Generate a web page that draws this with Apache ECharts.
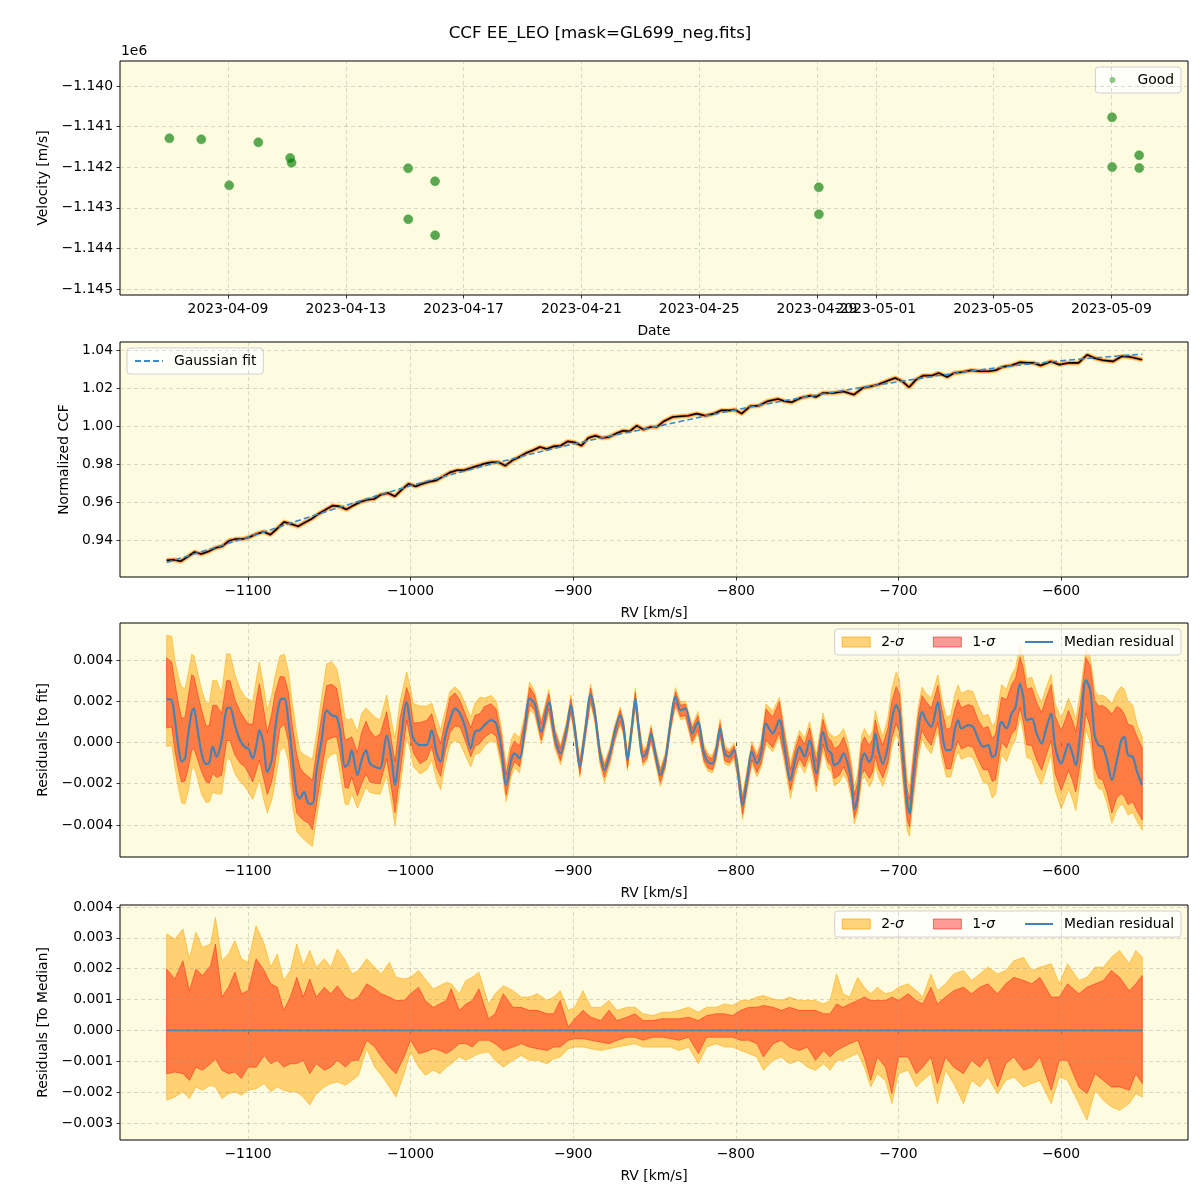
<!DOCTYPE html>
<html>
<head>
<meta charset="utf-8">
<script src="https://cdn.jsdelivr.net/npm/echarts@6.0.0/dist/echarts.min.js"></script>
<style>html,body{margin:0;padding:0;background:#fff;}#chart{width:1200px;height:1200px;}</style>
</head>
<body>
<div id="chart"></div>
<script>
// ---------------- Panel 1: velocities ----------------
const obsTimes = ['2023-04-07T00:15','2023-04-08T02:15','2023-04-09T01:00','2023-04-10T00:45','2023-04-11T02:40','2023-04-11T03:50',
  '2023-04-15T02:50','2023-04-15T02:55','2023-04-16T00:45','2023-04-16T00:50','2023-04-29T01:30','2023-04-29T01:35',
  '2023-05-09T00:30','2023-05-09T00:35','2023-05-09T22:35','2023-05-09T22:40'];
const velocities = [-1141288,-1141313,-1142446,-1141387,-1141773,-1141889,-1142027,-1143283,-1142347,-1143677,
  -1142495,-1143160,-1140771,-1141995,-1141707,-1142020];
const dateTicks = ['2023-04-09','2023-04-13','2023-04-17','2023-04-21','2023-04-25','2023-04-29','2023-05-01','2023-05-05','2023-05-09'];
const velTicks = [-1145000,-1144000,-1143000,-1142000,-1141000,-1140000];

// ---------------- Panel 2: CCF ----------------
const ccfRv = [-1150,-1145.7,-1141.4,-1137.2,-1132.9,-1128.7,-1124.4,-1120.2,-1115.9,-1111.7,
  -1107.4,-1103.2,-1098.9,-1094.7,-1090.4,-1086.2,-1081.9,-1077.7,-1073.4,-1069.2,
  -1064.9,-1060.7,-1056.4,-1052.2,-1047.9,-1043.7,-1039.4,-1035.2,-1030.9,-1026.7,
  -1022.4,-1018.2,-1013.9,-1009.7,-1005.4,-1001.2,-996.9,-992.7,-988.4,-984.2,
  -979.9,-975.7,-971.4,-967.2,-962.9,-958.7,-954.4,-950.2,-945.9,-941.7,
  -937.4,-933.2,-928.9,-924.7,-920.4,-916.2,-911.9,-907.7,-903.4,-899.2,
  -894.9,-890.7,-886.4,-882.2,-877.9,-873.7,-869.4,-865.2,-860.9,-856.7,
  -852.4,
  -848.5,-844.2,-838.9,-833.6,-829.3,-824,-818.7,-813.4,-809.1,-803.8,
  -800.6,-796.4,-791.1,-785.8,-780.5,-774.1,-769.8,-765.6,-760.3,-753.9,
  -750.7,-746.4,-740.1,-733.7,-727.3,-722,-716.7,-712.5,-706.1,-701.9,
  -697.6,-693.4,-689.1,-684.8,-679.5,-675.3,-670,-665.7,-660.4,-655.1,
  -649.8,-644.5,-640.2,-636,-630.6,-625.3,-621.1,-616.8,-612.6,-606.2,
  -600.9,-595.6,-589.2,-583.9,-579.6,-574.3,-567.9,-562.6,-557.3,-550];
const ccfVal = [0.9293,0.9296,0.9288,0.9311,0.9337,0.9326,0.9339,0.9358,0.9367,0.9396,
  0.9405,0.9405,0.9416,0.9432,0.9444,0.9428,0.9461,0.9495,0.9484,0.9472,
  0.9493,0.9512,0.9539,0.9560,0.9581,0.9577,0.9561,0.9582,0.9600,0.9612,
  0.9616,0.9639,0.9647,0.9630,0.9665,0.9696,0.9682,0.9696,0.9707,0.9714,
  0.9735,0.9756,0.9767,0.9767,0.9779,0.9791,0.9802,0.9809,0.9809,0.9791,
  0.9819,0.9837,0.9858,0.9872,0.9889,0.9879,0.9893,0.9896,0.9919,0.9914,
  0.9896,0.9937,0.9949,0.9937,0.9942,0.9960,0.9975,0.9972,1.0002,0.9981,
  0.9995,
  0.9995,1.0025,1.0047,1.0051,1.0054,1.0065,1.0054,1.0065,1.0082,1.0082,
  1.0086,1.0065,1.0104,1.0107,1.0130,1.0142,1.0130,1.0125,1.0147,1.0160,
  1.0153,1.0174,1.0174,1.0182,1.0165,1.0200,1.0209,1.0218,1.0240,1.0253,
  1.0235,1.0204,1.0244,1.0265,1.0265,1.0279,1.0258,1.0279,1.0284,1.0293,
  1.0288,1.0288,1.0293,1.0311,1.0318,1.0335,1.0333,1.0332,1.0318,1.0340,
  1.0323,1.0332,1.0332,1.0375,1.0358,1.0346,1.0340,1.0367,1.0363,1.0349];
const fitRv = [-1150,-1100,-1050,-1000,-950,-900,-850,-800,-750,-700,-650,-600,-550];
const fitVal = [0.9282,0.9415,0.9555,0.9685,0.9800,0.9905,0.9995,1.0085,1.0163,1.0233,1.0295,1.0343,1.0378];
const rvTicks = [-1100,-1000,-900,-800,-700,-600];
const ccfTicks = [0.94,0.96,0.98,1.00,1.02,1.04];

// ---------------- Panel 3: residuals to fit (units of 1e-3) ----------------
const resRv = [-1150,-1146.9,-1144.9,-1142.8,-1140.8,-1138.7,-1136.7,-1134.6,-1133.2,-1131.6,
  -1128.5,-1125.8,-1123.8,-1121.7,-1119.3,-1116.2,-1113.1,-1111.0,-1108.0,-1104.9,
  -1101.8,-1099.8,-1097.1,-1094.6,-1093.0,-1090.5,-1088.1,-1085.4,-1083.4,-1080.3,
  -1077.6,-1075.2,-1072.5,-1070.0,-1068.0,-1065.5,-1062.9,-1060.4,-1057.8,-1054.7,
  -1051.6,-1048.5,-1045.5,-1043.4,-1040.3,-1038.3,-1036.2,-1032.7,-1030.1,-1027.4,
  -1025.0,-1021.9,-1018.8,-1014.7,-1011.6,-1009.6,-1006.5,-1002.4,-1000.4,-998.3,
  -994.2,-990.1,-987.0,-984.0,-981.5,-978.8,-975.8,-972.7,-969.6,-966.5,
  -963.0,-960.4,-957.3,
  -954.6,-950.5,-947.4,-944.3,-941.2,-938.1,-936.1,-933.0,-929.9,-926.8,
  -923.7,-919.6,-915.0,-911.3,-907.8,-904.1,-901.4,-898.9,-895.9,-892.8,
  -889.3,-886.6,-883.5,-880.8,-877.3,-874.8,-871.1,-869.0,-866.6,-863.9,
  -861.8,-859.8,-857.1,-854.6,-852.1,-849.5,-846.4,-843.3,-840.2,-837.1,
  -834.0,-830.9,-826.8,-823.3,-819.6,-817.1,-814.4,-812.3,-809.7,-806.8,
  -804.1,-801.0,-799.0,-795.8,-792.8,-790.1,-787.0,-784.5,-781.4,-777.3,
  -773.2,-770.1,-766.4,-763.5,-760.8,-757.7,-754.6,-750.5,-746.4,-743.3,
  -741.2,
  -739.5,-736.4,-733.7,-731.2,-728.8,-727.1,-725.1,-722.6,-720.9,-717.9,
  -715.8,-714.2,-712.3,-709.6,-706.5,-704.1,-701.4,-699.4,-697.3,-694.6,
  -693.2,-691.1,-688.0,-685.5,-682.9,-679.8,-675.7,-673.6,-670.5,-667.8,
  -665.4,-663.3,-661.3,-657.1,-654.1,-651.0,-647.9,-644.8,-642.3,-640.3,
  -636.6,-633.5,-630.4,-627.9,-625.2,-623.2,-621.1,-618.0,-615.0,-611.9,
  -609.4,-606.1,-603.6,-599.9,-597.5,-595.4,-593.0,-590.9,-588.2,-584.7,
  -582.0,-579.3,-576.9,-574.4,-571.7,-568.7,-565.6,-562.9,-561.0,-558.8,
  -555.9,-553.2,-550.0];
const resMed = [2.10,2.05,1.08,-0.20,-0.93,-0.77,0.44,1.48,1.65,0.92,
  -0.53,-1.05,-0.98,-0.20,-0.69,0.11,1.65,1.69,0.84,0.11,
  -0.24,-0.29,-0.77,-0.05,0.60,-0.05,-1.42,-0.85,0.60,2.05,
  2.13,1.08,-0.85,-2.47,-2.71,-2.39,-2.95,-2.98,-1.34,0.11,
  1.56,1.32,1.24,0.60,-1.18,-1.02,-0.37,-1.58,-0.85,-0.37,
  -1.02,-1.18,-1.26,0.35,-0.85,-2.06,-0.21,1.97,1.08,0.19,
  -0.13,-0.13,0.60,-0.53,-0.94,0.27,1.08,1.65,1.40,0.76,
  -0.29,0.52,0.60,
  0.84,1.08,0.92,-0.21,-2.06,-0.85,-0.53,-0.77,0.60,2.13,
  1.89,0.52,1.97,0.27,-0.53,0.60,1.81,0.60,-1.18,0.44,
  2.34,1.40,-0.53,-1.34,-0.53,0.35,1.32,0.76,-0.85,0.76,
  2.13,0.76,-0.69,-0.45,0.44,-0.53,-1.58,-0.85,0.92,2.21,
  1.56,1.65,0.44,1.00,-0.53,-0.94,-1.02,-0.53,0.68,-0.53,
  -0.69,-0.37,-1.18,-3.03,-1.66,-0.45,-1.02,-0.53,0.92,0.44,
  1.08,-0.21,-1.82,-0.85,-0.21,-0.69,0.11,-1.50,0.52,-0.37,
  -0.53,
  -1.10,-0.94,-0.53,-1.02,-1.98,-3.24,-2.63,-0.85,-0.53,-0.94,
  -0.53,0.44,-0.37,-1.02,-0.21,1.08,1.81,1.48,-0.53,-2.95,
  -3.44,-1.82,0.44,1.48,1.08,0.76,1.97,0.76,-0.37,-0.37,
  0.60,1.08,0.68,0.84,0.76,0.19,-0.21,-0.13,-0.69,-0.61,
  1.00,0.68,1.40,1.73,2.85,2.21,1.08,1.16,0.44,-0.05,
  0.60,1.40,-0.21,-1.02,-0.53,-0.05,-0.53,-1.10,0.44,3.02,
  2.53,0.35,-0.13,-0.21,-0.85,-1.82,-0.85,0.11,0.27,-0.61,
  -0.69,-1.42,-2.06];
// band extents measured from the median (units of 1e-3)
const res2Up = [3.1,3.1,2.9,3.4,3.6,3.4,2.9,2.8,2.55,2.7,
  3.1,2.95,2.9,3.2,3.7,2.3,2.65,2.6,2.45,2.5,
  2.45,2.4,2.75,3.25,3.3,2.85,3.0,3.15,2.6,2.15,
  2.15,2.4,2.65,2.9,2.3,1.8,2.25,2.15,1.75,2.1,
  2.25,2.6,2.35,2.25,2.4,2.1,1.55,2.1,2.25,2.05,
  2.5,2.4,2.35,1.95,1.85,2.25,2.2,1.45,1.7,1.7,
  1.9,1.9,1.3,1.7,1.55,1.25,1.4,1.05,1.05,1.15,
  1.5,1.4,1.6,
  1.3,1.2,1.1,1.0,0.9,1.0,1.0,1.0,0.7,0.8,
  0.6,0.6,0.6,0.45,0.4,0.4,0.5,0.35,0.35,0.4,
  0.5,0.35,0.35,0.35,0.35,0.4,0.4,0.35,0.35,0.35,
  0.5,0.35,0.35,0.35,0.4,0.35,0.35,0.35,0.35,0.45,
  0.4,0.35,0.4,0.5,0.45,0.4,0.4,0.4,0.45,0.4,
  0.35,0.35,0.4,0.5,0.5,0.5,0.5,0.6,0.95,1.1,
  1.1,0.9,0.8,0.8,0.8,0.9,0.9,0.9,0.9,0.9,
  0.9,
  1.35,1.3,1.2,1.1,1.0,1.1,1.1,1.2,1.2,1.2,
  1.1,1.1,1.3,1.3,1.4,1.5,1.6,1.6,1.4,1.2,
  1.2,1.2,1.2,1.2,1.3,1.4,1.3,1.5,1.6,1.7,
  1.7,1.7,1.7,1.7,1.7,1.6,1.5,1.5,1.5,1.6,
  1.8,1.9,1.9,1.9,1.9,2.0,2.0,2.0,2.0,2.0,
  2.0,1.9,2.1,2.2,2.2,2.2,2.2,2.2,2.0,1.5,
  1.6,2.2,2.4,2.5,3.0,3.7,3.3,2.6,2.3,2.6,
  2.5,2.3,2.3];
const res1Up = [2.0,1.85,1.8,2.1,2.1,2.0,1.8,1.8,1.55,1.7,
  2.1,1.85,1.8,2.0,2.5,1.3,1.35,1.3,1.25,1.4,
  1.35,1.2,1.65,2.25,2.25,1.75,1.9,2.25,1.75,1.15,
  1.05,1.4,1.55,1.9,1.5,0.9,1.3,1.15,0.95,1.2,
  1.2,1.5,1.4,1.15,1.3,1.2,0.65,1.1,1.35,1.4,
  1.6,1.45,1.65,1.15,0.85,1.15,1.4,0.7,1.1,0.75,
  1.1,1.2,0.8,1.0,0.9,0.75,1.1,0.75,0.65,0.65,
  1.0,0.8,0.8,
  0.9,0.8,0.7,0.6,0.5,0.6,0.6,0.6,0.45,0.55,
  0.4,0.4,0.4,0.3,0.25,0.25,0.3,0.2,0.2,0.25,
  0.3,0.2,0.2,0.2,0.2,0.25,0.25,0.2,0.2,0.2,
  0.3,0.2,0.2,0.2,0.25,0.2,0.2,0.2,0.2,0.25,
  0.25,0.2,0.25,0.3,0.25,0.25,0.25,0.25,0.25,0.25,
  0.2,0.2,0.25,0.3,0.3,0.3,0.3,0.4,0.7,0.8,
  0.9,0.6,0.5,0.5,0.55,0.6,0.6,0.6,0.6,0.6,
  0.6,
  0.8,0.8,0.8,0.7,0.6,0.7,0.7,0.8,0.8,0.8,
  0.7,0.65,0.8,0.9,0.9,0.9,0.9,0.9,0.8,0.7,
  0.7,0.8,0.8,0.8,0.9,0.9,0.8,1.0,1.0,1.1,
  1.0,1.0,1.0,1.0,1.0,0.9,0.9,0.9,0.9,1.0,
  1.2,1.4,1.4,1.4,1.3,1.4,1.5,1.5,1.5,1.5,
  1.5,1.4,1.5,1.6,1.6,1.6,1.6,1.6,1.4,1.1,
  1.2,1.7,1.9,2.0,2.5,3.2,2.6,1.5,1.1,1.5,
  1.5,1.7,1.8];
const res1Dn = [1.4,1.3,1.5,1.1,1.0,1.1,1.7,1.85,1.95,1.6,
  0.9,0.85,1.0,1.3,1.0,1.7,1.55,1.6,1.45,1.1,
  0.95,1.2,1.15,1.25,1.45,1.65,1.1,1.05,1.6,1.35,
  1.25,1.0,1.35,0.95,0.9,1.4,0.95,1.25,1.65,1.5,
  1.45,1.1,0.95,1.15,1.0,1.2,1.3,1.0,1.15,1.15,
  0.9,0.8,0.75,1.15,1.45,1.35,1.3,0.9,0.8,0.7,
  0.9,0.7,0.8,0.7,0.7,0.75,0.6,0.85,0.65,0.65,
  0.4,0.7,0.65,
  0.6,0.6,0.6,0.6,0.5,0.5,0.4,0.4,0.35,0.3,
  0.35,0.4,0.35,0.35,0.35,0.3,0.3,0.3,0.35,0.3,
  0.3,0.3,0.35,0.35,0.3,0.3,0.3,0.3,0.35,0.3,
  0.3,0.3,0.3,0.3,0.3,0.3,0.35,0.3,0.3,0.3,
  0.3,0.35,0.4,0.4,0.35,0.3,0.3,0.3,0.3,0.35,
  0.3,0.3,0.35,0.45,0.4,0.4,0.45,0.5,0.8,0.7,
  0.6,0.5,0.5,0.5,0.55,0.5,0.6,0.6,0.6,0.6,
  0.6,
  0.65,0.65,0.65,0.6,0.5,0.4,0.5,0.7,0.8,0.8,
  0.9,1.1,0.9,0.7,0.8,0.9,0.9,1.0,1.0,0.8,
  0.65,0.8,0.9,0.9,0.9,0.9,1.0,1.0,0.9,0.9,
  1.0,1.0,1.0,1.0,1.0,1.0,1.1,1.2,1.2,1.2,
  1.0,0.95,1.0,1.1,1.15,1.2,1.2,1.3,1.3,1.3,
  1.3,1.3,1.3,1.3,1.3,1.3,1.3,1.3,1.5,1.6,
  1.8,1.6,1.6,1.6,1.6,1.6,1.8,2.6,2.9,2.4,
  2.2,1.9,1.7];
const res2Dn = [2.3,2.2,2.3,2.0,2.0,2.2,2.8,2.8,2.85,2.5,
  2.0,1.85,1.9,2.2,1.8,2.6,2.45,2.5,2.35,2.0,
  1.9,2.1,2.0,2.15,2.4,2.65,2.0,1.95,2.6,2.45,
  2.35,1.95,2.25,1.85,1.8,2.3,1.95,2.05,2.35,2.3,
  2.4,1.9,1.75,2.1,1.8,2.0,2.1,1.6,1.85,1.8,
  1.4,1.3,1.25,1.95,2.15,1.95,2.0,1.7,1.4,1.35,
  1.4,1.2,1.45,1.3,1.35,1.35,1.2,1.55,1.45,1.35,
  0.9,1.1,1.1,
  1.0,1.0,0.9,0.9,0.8,0.8,0.7,0.7,0.6,0.55,
  0.55,0.6,0.55,0.55,0.55,0.5,0.45,0.45,0.5,0.45,
  0.45,0.45,0.55,0.6,0.5,0.45,0.45,0.45,0.5,0.45,
  0.45,0.45,0.45,0.45,0.45,0.45,0.55,0.45,0.45,0.45,
  0.45,0.5,0.55,0.55,0.5,0.45,0.45,0.45,0.45,0.5,
  0.45,0.45,0.5,0.7,0.6,0.6,0.65,0.7,1.0,0.9,
  0.8,0.8,0.9,0.8,0.8,0.8,0.9,0.9,0.9,0.9,
  0.9,
  1.0,1.0,1.0,0.9,0.8,0.7,0.8,1.0,1.1,1.2,
  1.3,1.5,1.3,1.1,1.2,1.3,1.4,1.5,1.4,1.3,
  1.1,1.2,1.3,1.3,1.3,1.3,1.4,1.4,1.3,1.3,
  1.5,1.5,1.5,1.5,1.5,1.5,1.7,1.9,2.0,1.9,
  1.6,1.6,1.6,1.6,1.6,1.7,1.8,2.0,2.0,2.0,
  2.0,2.0,2.1,2.2,2.2,2.2,2.2,2.2,2.3,2.4,
  2.5,2.2,2.1,2.1,2.1,2.1,2.4,3.1,3.4,2.9,
  2.7,2.4,2.2];
const res3Ticks = [-4,-2,0,2,4];   // x 1e-3

// ---------------- Panel 4: residuals to median (units of 1e-3) ----------------
const medRv = [-1150,-1145,-1140,-1136,-1132,-1128,-1123,-1120,-1116,-1112,
  -1108,-1104,-1100,-1095,-1090,-1086,-1082,-1078,-1074,-1070,
  -1066,-1062,-1058,-1053,-1049,-1045,-1040,-1036,-1032,-1027,
  -1022,-1018,-1013,-1009,-1004,-1000,-995,-991,-986,-982,
  -978,-975,-970,-966,-962,-958,-952,-948,-943,-937,
  -932,-927,-922,-916,-912,-908,-903,-899,-894,-889,
  -883,-878,-873,-867,-862,-857,
  -851,-845,-840,-835,-829,-823,-818,-812,-807,-802,
  -797,-792,-787,-783,-777,-772,-767,-761,-756,-751,
  -746,-742,-738,-734,-730,-725,-721,-717,-713,-708,
  -704,-700,-694,-689,-685,-680,-676,-671,-666,-660,
  -655,-650,-645,-639,-634,-629,-623,-618,-613,-606,
  -601,-596,-589,-584,-579,-574,-569,-564,-558,-554,
  -550];
const med2Hi = [3.13,2.96,3.29,2.32,3.18,2.69,2.80,3.66,2.26,2.48,
  2.91,2.32,2.21,3.39,2.80,2.05,2.48,1.62,1.94,2.80,
  2.10,2.59,2.05,2.32,2.05,2.64,2.26,1.83,1.94,2.32,
  2.05,1.83,2.21,1.72,1.67,1.72,1.94,1.67,1.35,1.45,
  1.56,1.51,1.19,1.62,1.72,1.89,0.86,1.19,1.45,1.29,
  1.08,1.08,1.19,0.97,1.08,1.29,0.65,0.75,1.29,0.75,
  0.75,0.97,0.65,0.75,0.75,0.54,
  0.48,0.59,0.59,0.65,0.75,0.59,0.75,0.75,0.86,0.81,
  0.97,0.97,1.08,1.13,1.02,0.97,1.08,0.97,0.97,0.97,
  0.86,0.97,1.83,1.19,1.08,1.72,1.40,1.19,1.40,1.19,
  1.24,1.40,1.51,1.29,1.08,1.83,1.29,1.51,1.83,1.94,
  1.62,1.83,2.05,1.83,1.94,2.26,2.37,1.94,2.05,2.16,
  1.51,2.16,1.62,1.72,2.05,2.05,2.37,2.59,2.16,2.59,
  2.37];
const med1Hi = [1.99,1.67,2.26,1.29,1.99,1.78,2.10,2.80,1.08,1.40,
  1.89,1.19,1.29,2.32,1.94,1.51,1.40,0.65,1.08,1.72,
  1.08,1.67,1.08,1.40,1.19,1.45,1.08,0.97,1.08,1.51,
  1.35,1.19,1.08,0.97,0.97,1.19,1.40,0.97,0.75,0.86,
  0.97,1.35,0.65,0.86,0.97,1.35,0.38,0.54,1.19,0.75,
  0.75,0.65,0.65,0.54,0.54,0.97,0.11,0.38,0.65,0.43,
  0.32,0.65,0.32,0.43,0.54,0.32,
  0.32,0.38,0.38,0.38,0.43,0.32,0.48,0.54,0.54,0.48,
  0.65,0.75,0.75,0.81,0.75,0.65,0.75,0.65,0.65,0.65,
  0.54,0.54,0.86,0.75,0.86,0.97,1.08,0.97,0.97,0.97,
  1.08,0.97,1.19,0.97,0.86,1.40,0.86,1.08,1.29,1.40,
  1.19,1.40,1.51,1.19,1.51,1.72,1.62,1.51,1.72,1.08,
  1.08,1.51,1.19,1.40,1.51,1.62,1.94,1.72,1.29,1.51,
  1.78];
const med1Lo = [-1.40,-1.35,-1.40,-1.62,-1.19,-1.29,-1.08,-0.92,-1.29,-1.40,
  -1.35,-1.56,-1.19,-1.19,-0.81,-1.08,-0.97,-1.19,-1.08,-1.08,
  -0.97,-1.40,-1.08,-1.29,-1.19,-0.97,-1.19,-0.97,-0.97,-0.32,
  -0.54,-0.86,-1.19,-1.40,-0.86,-0.32,-0.75,-0.70,-0.59,-0.65,
  -0.75,-0.65,-0.43,-0.43,-0.54,-0.32,-0.32,-0.43,-0.65,-0.54,
  -0.43,-0.54,-0.59,-0.65,-0.54,-0.54,-0.32,-0.27,-0.27,-0.32,
  -0.38,-0.43,-0.32,-0.22,-0.22,-0.32,
  -0.22,-0.22,-0.27,-0.32,-0.22,-0.75,-0.22,-0.22,-0.22,-0.22,
  -0.32,-0.32,-0.43,-0.86,-0.43,-0.32,-0.54,-0.65,-0.54,-0.97,
  -0.65,-0.86,-0.65,-0.54,-0.43,-0.32,-0.86,-1.62,-0.86,-1.19,
  -2.05,-0.86,-0.86,-1.40,-1.19,-0.86,-1.72,-0.86,-1.19,-1.40,
  -0.97,-1.19,-0.86,-1.83,-1.08,-0.86,-1.29,-1.19,-0.86,-1.94,
  -0.97,-0.97,-1.83,-2.05,-1.40,-1.62,-1.83,-1.83,-1.94,-1.40,
  -1.72];
const med2Lo = [-2.26,-2.16,-1.99,-2.21,-1.83,-1.94,-1.78,-1.83,-2.21,-2.05,
  -1.99,-2.10,-1.94,-1.89,-1.72,-1.99,-1.83,-1.94,-1.99,-1.99,
  -2.16,-2.42,-2.05,-1.83,-1.72,-1.67,-1.78,-1.62,-1.45,-0.59,
  -1.19,-1.45,-1.83,-2.16,-1.40,-0.70,-1.19,-1.45,-1.29,-1.40,
  -1.19,-1.08,-0.86,-0.97,-0.86,-0.75,-0.70,-0.97,-1.19,-0.97,
  -0.81,-0.97,-0.97,-1.08,-0.92,-0.86,-0.59,-0.54,-0.54,-0.59,
  -0.65,-0.59,-0.54,-0.48,-0.43,-0.54,
  -0.54,-0.54,-0.54,-0.65,-0.54,-1.08,-0.54,-0.43,-0.54,-0.54,
  -0.65,-0.75,-0.86,-1.29,-0.97,-0.86,-1.08,-0.97,-1.19,-1.29,
  -1.08,-1.29,-0.97,-0.97,-0.86,-0.75,-1.19,-1.83,-1.40,-1.62,
  -2.37,-1.40,-1.29,-1.83,-1.62,-1.40,-2.37,-1.29,-1.72,-2.37,
  -1.62,-1.83,-1.51,-2.05,-1.62,-1.51,-1.83,-1.72,-1.62,-2.37,
  -1.51,-1.62,-2.37,-2.91,-1.94,-2.26,-2.48,-2.59,-2.37,-2.05,
  -2.16];
const medLineRv = [-1150,-550];
const medLineVal = [0,0];
const res4Ticks = [-3,-2,-1,0,1,2,3,4];   // x 1e-3

// ---------------- rendering ----------------
const FONT = 'DejaVu Sans';
const FS = 13.9;
const BG = '#fefce0';
const C_ORANGE = 'rgba(255,165,0,0.5)';
const C_RED = 'rgba(255,0,0,0.4)';
const C_BLUE = '#4682b4';
const C_FIT = '#3b8bc2';
const GRIDLINE = {color:'rgba(150,150,150,0.45)', width:0.8, type:[4,3]};

const toUtc = s => Date.parse(s + 'Z');
const minus = s => String(s).replace('-', '\u2212');

const grids = [
  {left:120, top:61, width:1068, height:234},
  {left:120, top:342, width:1068, height:235},
  {left:120, top:623, width:1068, height:234},
  {left:120, top:905, width:1068, height:235}
].map(g => Object.assign(g, {show:true, backgroundColor:BG, borderColor:'#000', borderWidth:1, containLabel:false}));

function axisBase(ticks, formatter) {
  return {
    type:'value',
    axisLine:{show:false},
    axisTick:{show:true, length:3.5, inside:false, lineStyle:{color:'#000', width:0.8}, customValues:ticks},
    axisLabel:{show:true, color:'#000', fontSize:FS, fontFamily:FONT, margin:7, customValues:ticks, formatter},
    splitLine:{show:false},
    nameTextStyle:{color:'#000', fontSize:FS, fontFamily:FONT}
  };
}
const dateTickVals = dateTicks.map(d => toUtc(d + 'T00:00'));
const dateFmt = v => new Date(v).toISOString().slice(0,10);
const rvFmt = v => minus(v);

const xAxes = [
  Object.assign(axisBase(dateTickVals, dateFmt), {gridIndex:0, min:Date.UTC(2023,3,5,8,0), max:Date.UTC(2023,4,11,14,24), name:'Date', nameLocation:'middle', nameGap:29}),
  Object.assign(axisBase(rvTicks, rvFmt), {gridIndex:1, min:-1178.7, max:-521.9, name:'RV [km/s]', nameLocation:'middle', nameGap:29}),
  Object.assign(axisBase(rvTicks, rvFmt), {gridIndex:2, min:-1178.7, max:-521.9, name:'RV [km/s]', nameLocation:'middle', nameGap:29}),
  Object.assign(axisBase(rvTicks, rvFmt), {gridIndex:3, min:-1178.7, max:-521.9, name:'RV [km/s]', nameLocation:'middle', nameGap:29})
];
const yAxes = [
  Object.assign(axisBase(velTicks, v => minus((v/1e6).toFixed(3))), {gridIndex:0, min:-1145148, max:-1139384, name:'Velocity [m/s]', nameLocation:'middle', nameGap:64}),
  Object.assign(axisBase(ccfTicks, v => v.toFixed(2)), {gridIndex:1, min:0.92053, max:1.04421, name:'Normalized CCF', nameLocation:'middle', nameGap:44}),
  Object.assign(axisBase(res3Ticks, v => minus((v/1000).toFixed(3))), {gridIndex:2, min:-5.552, max:5.794, name:'Residuals [to fit]', nameLocation:'middle', nameGap:64}),
  Object.assign(axisBase(res4Ticks, v => minus((v/1000).toFixed(3))), {gridIndex:3, min:-3.551, max:4.065, name:'Residuals [To Median]', nameLocation:'middle', nameGap:64})
];

function gridLines(i, xs, ys, anchor) {
  return {
    type:'line', xAxisIndex:i, yAxisIndex:i, data:[anchor], showSymbol:false, symbol:'none',
    lineStyle:{opacity:0}, silent:true, z:1, legendHoverLink:false, tooltip:{show:false},
    markLine:{silent:true, symbol:['none','none'], label:{show:false}, lineStyle:GRIDLINE, animation:false,
      data:[...xs.map(v => ({xAxis:v})), ...ys.map(v => ({yAxis:v}))]}
  };
}
function band(name, i, xs, lo, hi, color) {
  return {
    type:'custom', name, xAxisIndex:i, yAxisIndex:i, coordinateSystem:'cartesian2d', silent:true, z:2,
    itemStyle:{color},
    data:[[xs[0], lo[0]]],
    renderItem:(params, api) => {
      const pts = [];
      for (let k = 0; k < xs.length; k++) pts.push(api.coord([xs[k], hi[k]]));
      for (let k = xs.length - 1; k >= 0; k--) pts.push(api.coord([xs[k], lo[k]]));
      return {type:'polygon', shape:{points:pts}, style:{fill:color, stroke:color, lineWidth:1}};
    }
  };
}

const res2Lo = resMed.map((m,k) => m - res2Dn[k]);
const res2Hi = resMed.map((m,k) => m + res2Up[k]);
const res1Lo = resMed.map((m,k) => m - res1Dn[k]);
const res1Hi = resMed.map((m,k) => m + res1Up[k]);

const ccfData = ccfRv.map((x,k) => [x, ccfVal[k]]);
const legendBox = {backgroundColor:'rgba(255,255,255,0.8)', borderColor:'#d0d0d0', borderWidth:1, borderRadius:3,
  orient:'horizontal', itemWidth:28, itemHeight:10, itemGap:29, padding:[6,7,6,7],
  textStyle:{color:'#000', fontSize:FS, fontFamily:FONT, padding:[0,0,0,6],
    rich:{i:{fontStyle:'italic', fontSize:FS, fontFamily:FONT, color:'#000'}}},
  formatter: n => n === '2-σ' ? '2-{i|σ}' : (n === '1-σ' ? '1-{i|σ}' : n), selectedMode:false};
const hiddenSymbol = {color:'rgba(0,0,0,0)', borderColor:'rgba(0,0,0,0)', borderWidth:0};
const bandLegendData = [
  {name:'2-σ', icon:'rect', itemStyle:{color:C_ORANGE, borderColor:'rgba(255,165,0,0.7)', borderWidth:1}},
  {name:'1-σ', icon:'rect', itemStyle:{color:C_RED, borderColor:'rgba(255,0,0,0.5)', borderWidth:1}},
  {name:'Median residual', itemStyle:hiddenSymbol, lineStyle:{color:C_BLUE, width:2}}
];

const option = {
  animation:false,
  backgroundColor:'#fff',
  title:{text:'CCF EE_LEO [mask=GL699_neg.fits]', left:'center', top:20,
    textStyle:{fontSize:16.7, fontWeight:'normal', fontFamily:FONT, color:'#000'}},
  graphic:[{type:'text', left:121, top:44, style:{text:'1e6', font:FS + 'px "' + FONT + '"', fill:'#000'}}],
  grid:grids, xAxis:xAxes, yAxis:yAxes,
  legend:[
    Object.assign({}, legendBox, {right:19, top:67, itemHeight:6, padding:[6,7,6,14], data:[{name:'Good', itemStyle:{color:'rgba(0,128,0,0.55)', borderWidth:0}}]}),
    Object.assign({}, legendBox, {left:127, top:348, data:[{name:'Gaussian fit', itemStyle:hiddenSymbol}]}),
    Object.assign({}, legendBox, {right:19, top:629, data:bandLegendData}),
    Object.assign({}, legendBox, {right:19, top:911, data:bandLegendData})
  ],
  series:[
    gridLines(0, dateTickVals, velTicks, [dateTickVals[0], velTicks[0]]),
    {type:'scatter', name:'Good', xAxisIndex:0, yAxisIndex:0, z:3, symbol:'circle', symbolSize:9,
      itemStyle:{color:'rgba(0,120,0,0.8)', borderColor:'rgba(60,170,60,0.7)', borderWidth:1},
      data:obsTimes.map((t,k) => [toUtc(t), velocities[k]])},

    gridLines(1, rvTicks, ccfTicks, [rvTicks[0], ccfTicks[0]]),
    {type:'line', name:'ccf-2s', xAxisIndex:1, yAxisIndex:1, z:2, data:ccfData, showSymbol:false, symbol:'none',
      lineStyle:{color:C_ORANGE, width:5}, silent:true},
    {type:'line', name:'ccf-1s', xAxisIndex:1, yAxisIndex:1, z:2, data:ccfData, showSymbol:false, symbol:'none',
      lineStyle:{color:C_RED, width:3}, silent:true},
    {type:'line', name:'ccf', xAxisIndex:1, yAxisIndex:1, z:3, data:ccfData, showSymbol:false, symbol:'none',
      lineStyle:{color:'#000', width:1.6}, silent:true},
    {type:'line', name:'Gaussian fit', xAxisIndex:1, yAxisIndex:1, z:4, smooth:0.4, showSymbol:false, symbol:'none',
      data:fitRv.map((x,k) => [x, fitVal[k]]), lineStyle:{color:C_FIT, width:1.6, type:[6,3]}, itemStyle:{color:C_FIT}, silent:true},

    gridLines(2, rvTicks, res3Ticks, [rvTicks[0], res3Ticks[0]]),
    band('2-σ', 2, resRv, res2Lo, res2Hi, C_ORANGE),
    band('1-σ', 2, resRv, res1Lo, res1Hi, C_RED),
    {type:'line', name:'Median residual', xAxisIndex:2, yAxisIndex:2, z:4, showSymbol:false, symbol:'none', smooth:0.3,
      data:resRv.map((x,k) => [x, resMed[k]]), lineStyle:{color:C_BLUE, width:2.2}, itemStyle:{color:C_BLUE}, silent:true},

    gridLines(3, rvTicks, res4Ticks, [rvTicks[0], res4Ticks[0]]),
    band('2-σ', 3, medRv, med2Lo, med2Hi, C_ORANGE),
    band('1-σ', 3, medRv, med1Lo, med1Hi, C_RED),
    {type:'line', name:'Median residual', xAxisIndex:3, yAxisIndex:3, z:4, showSymbol:false, symbol:'none',
      data:medLineRv.map((x,k) => [x, medLineVal[k]]), lineStyle:{color:C_BLUE, width:1.8}, itemStyle:{color:C_BLUE}, silent:true}
  ]
};
const chart = echarts.init(document.getElementById('chart'), null, {renderer:'canvas'});
chart.setOption(option);
</script>
</body>
</html>
